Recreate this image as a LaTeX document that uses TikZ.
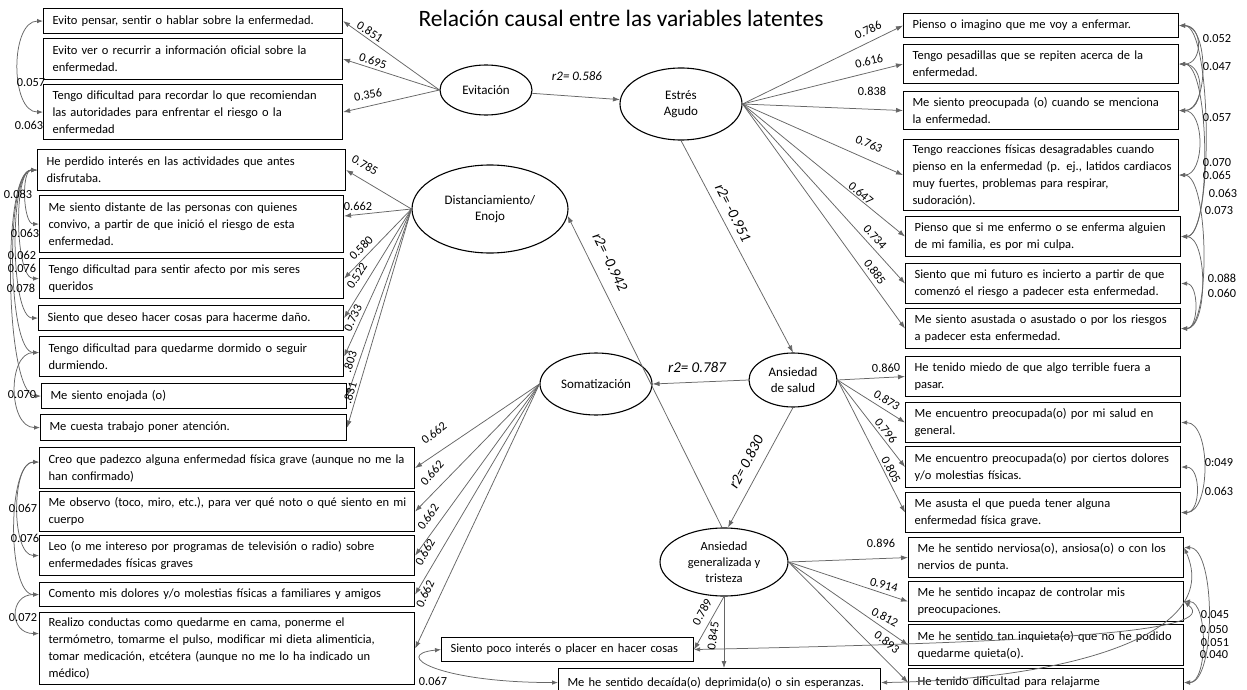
\documentclass[tikz,border=0pt]{standalone}
\usepackage{fontspec}
\setmainfont{Carlito}
\usetikzlibrary{arrows.meta,shapes.geometric}
\begin{document}
\begin{tikzpicture}[x=1pt,y=-1pt,
  box/.style={draw=black, line width=1.1pt, fill=white, anchor=north west, align=left, inner xsep=9pt, inner ysep=0pt, font=\fontsize{12.5}{17}\selectfont},
  lat/.style={ellipse, draw=black, line width=1.1pt, fill=white, inner sep=0pt, align=center, font=\fontsize{13}{16.5}\selectfont},
  ld/.style={draw=black!60, line width=0.75pt, -{Latex[length=7pt,width=5pt]}},
  cov/.style={draw=black!60, line width=0.75pt, {Latex[length=6pt,width=4.5pt]}-{Latex[length=6pt,width=4.5pt]}},
  num/.style={font=\fontsize{12.3}{14}\selectfont, inner sep=0pt},
  rlab/.style={font=\fontsize{15}{17}\selectfont\itshape, inner sep=0pt},
]
\fill[white] (0,0) rectangle (1247,690);
\useasboundingbox (0,0) rectangle (1247,690);

\node[font=\fontsize{23.5}{28}\selectfont, inner sep=0pt] (title) at (621,18) {Relación causal entre las variables latentes};

% ---------- left boxes ----------
\node[box, text width=281pt, minimum height=25pt] (L1) at (43,8) {\mbox{Evito pensar, sentir o hablar sobre la enfermedad.}};
\node[box, text width=281pt, minimum height=41pt] (L2) at (43,38) {\mbox{Evito ver o recurrir a información oficial sobre la}\\\mbox{enfermedad.}};
\node[box, text width=281pt, minimum height=55pt] (L3) at (43,84) {\mbox{Tengo dificultad para recordar lo que recomiendan}\\\mbox{las autoridades para enfrentar el riesgo o la}\\\mbox{enfermedad}};
\node[box, text width=290pt, minimum height=41pt] (D1) at (37,149) {\mbox{He perdido interés en las actividades que antes}\\\mbox{disfrutaba.}};
\node[box, text width=286pt, minimum height=57pt] (D2) at (39,195) {\mbox{Me siento distante de las personas con quienes}\\\mbox{convivo, a partir de que inició el riesgo de esta}\\\mbox{enfermedad.}};
\node[box, text width=286pt, minimum height=40pt] (D3) at (39,258) {\mbox{Tengo dificultad para sentir afecto por mis seres}\\\mbox{queridos}};
\node[box, text width=287pt, minimum height=25pt] (D4) at (38,305) {\mbox{Siento que deseo hacer cosas para hacerme daño.}};
\node[box, text width=286pt, minimum height=40pt] (D5) at (39,336) {\mbox{Tengo dificultad para quedarme dormido o seguir}\\\mbox{durmiendo.}};
\node[box, text width=287pt, minimum height=25pt] (D6) at (41,383) {\mbox{Me siento enojada (o)}};
\node[box, text width=288pt, minimum height=26pt] (D7) at (40,414) {\mbox{Me cuesta trabajo poner atención.}};
\node[box, text width=357pt, minimum height=41pt] (S1) at (39,447) {\mbox{Creo que padezco alguna enfermedad física grave (aunque no me la}\\\mbox{han confirmado)}};
\node[box, text width=357pt, minimum height=40pt] (S2) at (39,491) {\mbox{Me observo (toco, miro, etc.), para ver qué noto o qué siento en mi}\\\mbox{cuerpo}};
\node[box, text width=357pt, minimum height=40pt] (S3) at (39,535) {\mbox{Leo (o me intereso por programas de televisión o radio) sobre}\\\mbox{enfermedades físicas graves}};
\node[box, text width=357pt, minimum height=24pt] (S4) at (39,582) {\mbox{Comento mis dolores y/o molestias físicas a familiares y amigos}};
\node[box, text width=357pt, minimum height=72pt] (S5) at (39,612) {\mbox{Realizo conductas como quedarme en cama, ponerme el}\\\mbox{termómetro, tomarme el pulso, modificar mi dieta alimenticia,}\\\mbox{tomar medicación, etcétera (aunque no me lo ha indicado un}\\\mbox{médico)}};

% ---------- right boxes ----------
\node[box, text width=257pt, minimum height=24pt] (R1) at (903,13) {\mbox{Pienso o imagino que me voy a enfermar.}};
\node[box, text width=257pt, minimum height=39pt] (R2) at (903,44) {\mbox{Tengo pesadillas que se repiten acerca de la}\\\mbox{enfermedad.}};
\node[box, text width=257pt, minimum height=38pt] (R3) at (903,91) {\mbox{Me siento preocupada (o) cuando se menciona}\\\mbox{la enfermedad.}};
\node[box, text width=257pt, minimum height=71pt] (R4) at (903,139) {\mbox{Tengo reacciones físicas desagradables cuando}\\\mbox{pienso en la enfermedad (p. ej., latidos cardiacos}\\\mbox{muy fuertes, problemas para respirar,}\\\mbox{sudoración).}};
\node[box, text width=257pt, minimum height=40pt] (R5) at (905,216) {\mbox{Pienso que si me enfermo o se enferma alguien}\\\mbox{de mi familia, es por mi culpa.}};
\node[box, text width=257pt, minimum height=40pt] (R6) at (905,263) {\mbox{Siento que mi futuro es incierto a partir de que}\\\mbox{comenzó el riesgo a padecer esta enfermedad.}};
\node[box, text width=257pt, minimum height=40pt] (R7) at (905,308) {\mbox{Me siento asustada o asustado o por los riesgos}\\\mbox{a padecer esta enfermedad.}};
\node[box, text width=257pt, minimum height=40pt] (H1) at (905,356) {\mbox{He tenido miedo de que algo terrible fuera a}\\\mbox{pasar.}};
\node[box, text width=257pt, minimum height=40pt] (H2) at (905,402) {\mbox{Me encuentro preocupada(o) por mi salud en}\\\mbox{general.}};
\node[box, text width=257pt, minimum height=41pt] (H3) at (905,446) {\mbox{Me encuentro preocupada(o) por ciertos dolores}\\\mbox{y/o molestias físicas.}};
\node[box, text width=257pt, minimum height=40pt] (H4) at (905,492) {\mbox{Me asusta el que pueda tener alguna}\\\mbox{enfermedad física grave.}};
\node[box, text width=257pt, minimum height=40pt] (G1) at (908,537) {\mbox{Me he sentido nerviosa(o), ansiosa(o) o con los}\\\mbox{nervios de punta.}};
\node[box, text width=257pt, minimum height=40pt] (G2) at (908,581) {\mbox{Me he sentido incapaz de controlar mis}\\\mbox{preocupaciones.}};
\node[box, text width=257pt, minimum height=41pt] (G3) at (908,624) {\mbox{Me he sentido tan inquieta(o) que no he podido}\\\mbox{quedarme quieta(o).}};
\node[box, text width=257pt, minimum height=28pt] (G4) at (908,668) {\mbox{He tenido dificultad para relajarme}};
\node[box, text width=234pt, minimum height=24pt] (B1) at (441,637) {\mbox{Siento poco interés o placer en hacer cosas}};
\node[box, text width=304pt, minimum height=28pt] (B2) at (558,668) {\mbox{Me he sentido decaída(o) deprimida(o) o sin esperanzas.}};

% ---------- latent variables ----------
\node[lat, minimum width=92pt, minimum height=50pt] (ev) at (486,90) {Evitación};
\node[lat, minimum width=122pt, minimum height=72pt] (ea) at (681,104) {Estrés\\Agudo};
\node[lat, minimum width=156pt, minimum height=88pt] (dist) at (490,209) {Distanciamiento/\\Enojo};
\node[lat, minimum width=112pt, minimum height=62pt] (sm) at (596,384) {Somatización};
\node[lat, minimum width=88pt, minimum height=54pt] (ah) at (793,380) {Ansiedad\\de salud};
\node[lat, minimum width=128pt, minimum height=68pt, font=\fontsize{12.5}{16}\selectfont] (ag) at (724,562) {Ansiedad\\generalizada y\\tristeza};

% ---------- loadings ----------
\foreach \b in {L1,L2,L3} \draw[ld] (ev.west) -- (\b.east);
\foreach \b in {R1,R2,R3,R4,R5,R6,R7} \draw[ld] (ea.east) -- (\b.west);
\foreach \b in {D1,D3,D4,D5,D6,D7} \draw[ld] (dist.west) -- (\b.east);
\draw[ld] (dist.west) -- ([yshift=8pt]D2.east);
\foreach \b in {S1,S2,S3,S4,S5} \draw[ld] (sm.west) -- (\b.east);
\foreach \b in {H1,H2,H3,H4} \draw[ld] (ah.east) -- (\b.west);
\foreach \b in {G1,G2,G3,G4} \draw[ld] (ag.east) -- (\b.west);
\draw[ld] (ag.south) -- (B1.east);
\draw[ld] (ag.south) -- (ag.south |- B2.north);

% ---------- structural paths ----------
\draw[ld] (ev) -- (ea);
\draw[ld] (ea.south) -- (ah.north);
\draw[ld] (ah.west) -- (sm.east);
\draw[ld] (ah.south) -- ([xshift=4pt]ag.north);
\draw[ld] ([xshift=-2pt]ag.north) -- (dist.-5);

% ---------- covariances left ----------
\draw[cov] (L1.west) .. controls +(-33,0) and +(-33,0) .. (L3.west);
\draw[cov] (D1.west) .. controls +(-16,0) and +(-16,0) .. (D2.west);
\draw[cov] (D1.west) .. controls +(-24,0) and +(-24,0) .. (D3.west);
\draw[cov] (D1.west) .. controls +(-28,0) and +(-28,0) .. (D4.west);
\draw[cov] (D1.west) .. controls +(-32,0) and +(-32,0) .. ([yshift=4pt]D5.west);
\draw[cov] (D1.west) .. controls +(-36,0) and +(-36,0) .. (D6.west);
\draw[cov] ([yshift=4pt]D5.west) .. controls +(-32,0) and +(-32,0) .. (D7.west);
\draw[cov] ([yshift=6pt]S1.west) .. controls +(-28,0) and +(-28,0) .. (S3.west);
\draw[cov] ([yshift=6pt]S1.west) .. controls +(-32,0) and +(-32,0) .. (S4.west);
\draw[cov] (S4.west) .. controls +(-30,0) and +(-30,0) .. ([yshift=15pt]S5.west);
\draw[cov] (B1.west) .. controls +(-50,5) and +(-120,0) .. (B2.west);

% ---------- covariances right ----------
\draw[cov] (R1.east) .. controls +(24,0) and +(24,0) .. (R2.east);
\draw[cov] (R2.east) .. controls +(26,0) and +(26,0) .. (R3.east);
\draw[cov] (R1.east) .. controls +(30,0) and +(30,0) .. (R3.east);
\draw[cov] (R3.east) .. controls +(26,0) and +(26,0) .. (R4.east);
\draw[cov] (R1.east) .. controls +(33,0) and +(33,0) .. (R5.east);
\draw[cov] (R2.east) .. controls +(31,0) and +(31,0) .. (R5.east);
\draw[cov] (R4.east) .. controls +(30,0) and +(30,0) .. (R7.east);
\draw[cov] (R5.east) .. controls +(27,0) and +(27,0) .. (R7.east);
\draw[cov] (R6.east) .. controls +(18,0) and +(18,0) .. (R7.east);
\draw[cov] (H2.east) .. controls +(30,0) and +(30,0) .. (H4.east);
\draw[cov] (H3.east) .. controls +(20,0) and +(20,0) .. (H4.east);
\draw[cov] ([yshift=10pt]G1.east) .. controls +(32,0) and +(32,0) .. (G4.east);
\draw[cov] (G2.east) .. controls +(24,0) and +(24,0) .. (G4.east);
\draw[cov] (B1.east) .. controls (1050,642) and (1222,632) .. (G2.east);
\draw[cov] (B2.east) .. controls (1050,680) and (1225,640) .. ([yshift=10pt]G1.east);

% ---------- path labels ----------
\node[rlab, font=\fontsize{13}{15}\selectfont\itshape] (p1) at (577,76) {r2= 0.586};
\node[rlab, rotate=-63] (p2) at (733,213) {r2= -0.951};
\node[rlab, rotate=-64] (p3) at (610,262) {r2= -0.942};
\node[rlab] (p4) at (697,367) {r2= 0.787};
\node[rlab, rotate=62] (p5) at (746,462) {r2= 0.830};

% ---------- loading labels ----------
\foreach \x/\y/\r/\t [count=\i] in {
  370/32/-33/0.851, 373/61/-18/0.695, 368/95/10/0.356,
  868/30/26/0.786, 869/61/14/0.616, 872/91/0/0.838, 869/144/-24/0.763,
  861/193/-40/0.647, 875/237/-48/0.734, 875/272/-54/0.885,
  365/165/-30/0.785, 358/206/0/0.662, 361/248/45/0.580, 357/276/58/0.522,
  353/318/66/0.733, 350/362/72/.803, 350/393/74/.831,
  434/433/38/0.662, 432/473/48/0.662, 428/517/55/0.662, 425/552/60/0.662, 425/594/65/0.662,
  886/368/3/0.860, 887/400/-32/0.873, 886/431/-52/0.796, 891/470/-62/0.805,
  881/543/0/0.896, 884/585/-15/0.914, 885/617/-28/0.812, 887/642/-38/0.893,
  702/612/61/0.789, 713/636/82/0.845}
  \node[num, rotate=\r] (ll\i) at (\x,\y) {\t};

% ---------- covariance labels ----------
\foreach \x/\y/\t [count=\i] in {
  31/83/0.057, 29/125/0.063, 18/194/0.083, 25/233/0.063, 22/255/0.062,
  22/268/0.076, 21/288/0.078, 22/395/0.070, 23/508/0.067, 25/538/0.076,
  23/618/0.072, 433/681/0.067,
  1217/39/0.052, 1217/67/0.047, 1217/118/0.057, 1217/163/0.070, 1217/175/0.065,
  1223/193/0.063, 1219/211/0.073, 1222/278/0.088, 1222/293/0.060,
  1219/463/0:049, 1219/491/0.063,
  1215/615/0.045, 1214/630/0.050, 1215/643/0.051, 1214/655/0.040}
  \node[num] (cl\i) at (\x,\y) {\t};
\end{tikzpicture}
\end{document}
